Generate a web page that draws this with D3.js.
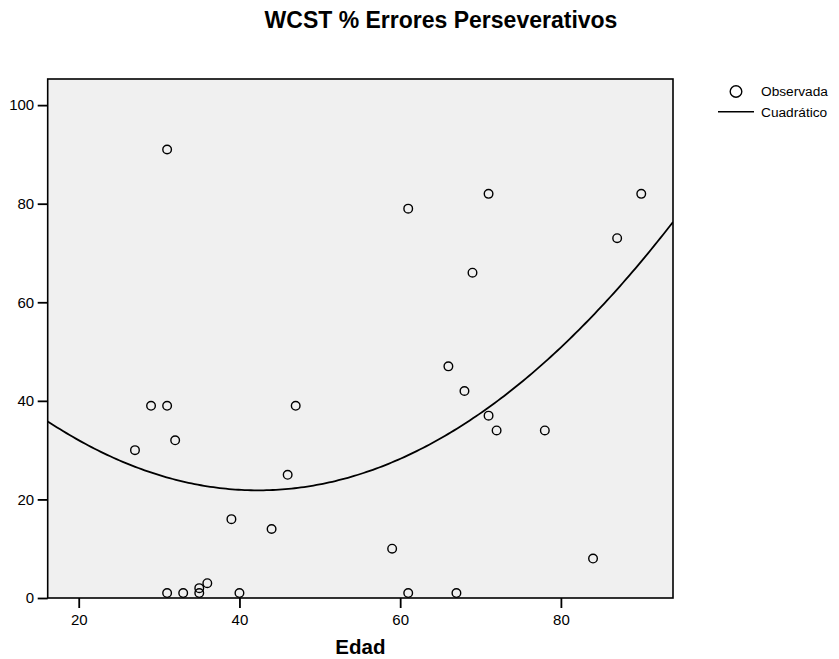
<!DOCTYPE html>
<html>
<head>
<meta charset="utf-8">
<script src="https://cdn.jsdelivr.net/npm/d3@7"></script>
<style>
  body { margin: 0; background: #fff; }
  svg { display: block; font-family: Arial, "Liberation Sans", sans-serif; }
</style>
</head>
<body>
<svg id="chart" width="839" height="659"></svg>
<script>
// Edad (age) and WCST perseverative error percentage per subject
const edad = [27, 29, 31, 31, 32, 31, 33, 35, 35, 36, 40, 39, 44, 46, 47,
              59, 61, 67, 84, 61, 71, 90, 87, 69, 66, 68, 71, 72, 78];
const errores = [30, 39, 39, 91, 32, 1, 1, 1, 2, 3, 1, 16, 14, 25, 39,
                 10, 1, 1, 8, 79, 82, 82, 73, 66, 47, 42, 37, 34, 34];
const xTicks = [20, 40, 60, 80];
const yTicks = [0, 20, 40, 60, 80, 100];
const legendLabels = ["Observada", "Cuadrático"];

const svg = d3.select("#chart");
const plot = { left: 47.7, right: 673, top: 79, bottom: 598 };

const x = d3.scaleLinear().domain([16.14, 93.95]).range([plot.left, plot.right]);
const y = d3.scaleLinear().domain([0, 105.3]).range([plot.bottom, plot.top]);

// Least-squares quadratic fit y = b0 + b1 x + b2 x^2
function quadFit(xs, ys) {
  const n = xs.length;
  let s = [0, 0, 0, 0, 0], t = [0, 0, 0];
  for (let i = 0; i < n; i++) {
    let p = 1;
    for (let k = 0; k <= 4; k++) { s[k] += p; if (k <= 2) t[k] += p * ys[i]; p *= xs[i]; }
  }
  const A = [[s[0], s[1], s[2], t[0]], [s[1], s[2], s[3], t[1]], [s[2], s[3], s[4], t[2]]];
  for (let c = 0; c < 3; c++) {
    for (let r = c + 1; r < 3; r++) {
      const f = A[r][c] / A[c][c];
      for (let k = c; k < 4; k++) A[r][k] -= f * A[c][k];
    }
  }
  const b = [0, 0, 0];
  for (let r = 2; r >= 0; r--) {
    let v = A[r][3];
    for (let k = r + 1; k < 3; k++) v -= A[r][k] * b[k];
    b[r] = v / A[r][r];
  }
  return b;
}
const coef = quadFit(edad, errores);
const fitted = d3.range(0, 201).map(i => {
  const xv = x.domain()[0] + (x.domain()[1] - x.domain()[0]) * i / 200;
  return [xv, coef[0] + coef[1] * xv + coef[2] * xv * xv];
});

// Plot background
svg.append("rect")
  .attr("x", plot.left).attr("y", plot.top)
  .attr("width", plot.right - plot.left).attr("height", plot.bottom - plot.top)
  .attr("fill", "#f0f0f0");

svg.append("defs").append("clipPath").attr("id", "clip")
  .append("rect")
  .attr("x", plot.left).attr("y", plot.top)
  .attr("width", plot.right - plot.left).attr("height", plot.bottom - plot.top);

// Fitted curve
svg.append("path")
  .datum(fitted)
  .attr("clip-path", "url(#clip)")
  .attr("fill", "none")
  .attr("stroke", "#000")
  .attr("stroke-width", 1.8)
  .attr("d", d3.line().x(d => x(d[0])).y(d => y(d[1])));

// Observed points
svg.append("g").selectAll("circle")
  .data(edad.map((v, i) => [v, errores[i]]))
  .join("circle")
  .attr("cx", d => x(d[0]))
  .attr("cy", d => y(d[1]))
  .attr("r", 4.3)
  .attr("fill", "none")
  .attr("stroke", "#000")
  .attr("stroke-width", 1.4);

// Frame
svg.append("rect")
  .attr("x", plot.left).attr("y", plot.top)
  .attr("width", plot.right - plot.left).attr("height", plot.bottom - plot.top)
  .attr("fill", "none").attr("stroke", "#000").attr("stroke-width", 1.6);

// Axes
const xAxis = svg.append("g")
  .attr("transform", `translate(0,${plot.bottom})`)
  .call(d3.axisBottom(x).tickValues(xTicks).tickSize(10).tickPadding(6).tickSizeOuter(0));
const yAxis = svg.append("g")
  .attr("transform", `translate(${plot.left},0)`)
  .call(d3.axisLeft(y).tickValues(yTicks).tickSize(10).tickPadding(3.5).tickSizeOuter(0));
[xAxis, yAxis].forEach(g => {
  g.select(".domain").remove();
  g.selectAll(".tick line").attr("stroke", "#000").attr("stroke-width", 1.8);
  g.selectAll(".tick text")
    .attr("fill", "#000")
    .style("font-family", "Arial, 'Liberation Sans', sans-serif")
    .style("font-size", "15px");
});

// Title and axis label
svg.append("text")
  .attr("x", 441).attr("y", 28)
  .attr("text-anchor", "middle")
  .style("font-weight", "bold").style("font-size", "23px")
  .text("WCST % Errores Perseverativos");

svg.append("text")
  .attr("x", (plot.left + plot.right) / 2).attr("y", 654)
  .attr("text-anchor", "middle")
  .style("font-weight", "bold").style("font-size", "20.5px")
  .text("Edad");

// Legend
const legend = svg.append("g");
legend.append("circle")
  .attr("cx", 736).attr("cy", 91.5).attr("r", 5.8)
  .attr("fill", "none").attr("stroke", "#000").attr("stroke-width", 1.4);
legend.append("line")
  .attr("x1", 718).attr("x2", 754).attr("y1", 111.7).attr("y2", 111.7)
  .attr("stroke", "#000").attr("stroke-width", 1.6);
legend.selectAll("text.lbl")
  .data(legendLabels)
  .join("text")
  .attr("class", "lbl")
  .attr("x", 761)
  .attr("y", (d, i) => 96 + i * 20.5)
  .style("font-size", "13.7px")
  .text(d => d);
</script>
</body>
</html>
